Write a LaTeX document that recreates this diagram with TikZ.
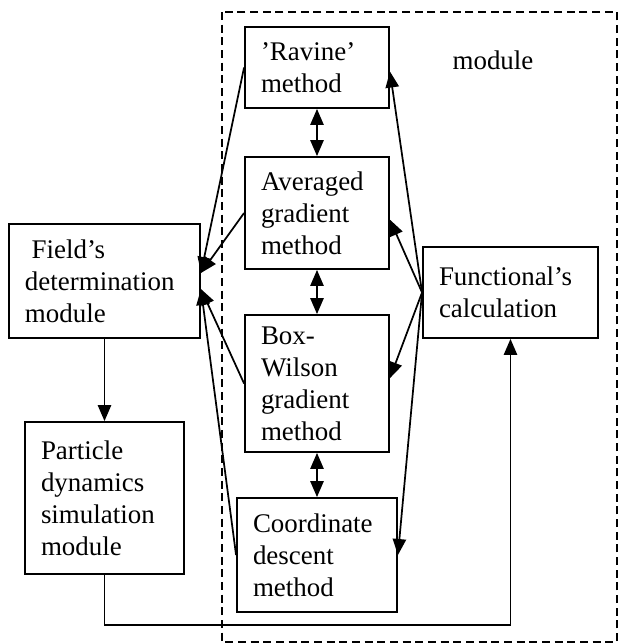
\documentclass[tikz,border=0pt]{standalone}
\usepackage{fontspec}
\setmainfont{Liberation Serif}
\usetikzlibrary{arrows.meta,positioning}

\begin{document}
\begin{tikzpicture}[x=0.75pt,y=-0.75pt,
  box/.style 2 args={draw, line width=1.4pt, align=left, inner xsep=12pt, inner ysep=0pt,
    text width=#1, minimum height=#2, font=\fontsize{20.2}{24}\selectfont},
  link/.style={line width=1.3pt, -{Triangle[length=12pt,width=10pt]}},
  dlink/.style={line width=1.3pt, {Triangle[length=12pt,width=10pt]}-{Triangle[length=12pt,width=10pt]}},
  frame/.style={line width=1.2pt, dash pattern=on 6pt off 3.5pt}]

\useasboundingbox (0,0) rectangle (618,644);

\draw[frame] (222,12) rectangle (617,642);

\node[box={84pt}{60.75pt}] (ravine) at (317,67.5) {'Ravine'\\method};
\node[box={84pt}{84pt}] (avg) at (317,213) {Averaged\\gradient\\method};
\node[box={84pt}{102.75pt}] (boxw) at (317,383.5) {Box-\\Wilson\\gradient\\method};
\node[box={96pt}{85.5pt}] (coord) at (317,555) {Coordinate\\descent\\method};
\node[box={119.25pt}{85.5pt}] (field) at (104.5,281) {\hspace*{0.25em}Field's\\determination\\module};
\node[box={95.25pt}{114pt}] (particle) at (104.5,498) {Particle\\dynamics\\simulation\\module\\[6pt]};
\node[box={107.25pt}{68.25pt}] (func) at (510.5,292.5) {Functional's\\calculation\\[4pt]};
\node[font=\fontsize{20.2}{24}\selectfont] (modlabel) at (493,60) {module};

\coordinate (bus) at (0,625);

% methods <-> each other
\draw[dlink] (ravine) -- (avg);
\draw[dlink] (avg) -- (boxw);
\draw[dlink] (boxw) -- (coord);

% methods -> field's determination
\draw[link] (ravine.west) -- ([yshift=6pt]field.east);
\draw[link] (avg.west) -- ([yshift=6pt]field.east);
\draw[link] (boxw.west) -- ([yshift=-6pt]field.east);
\draw[link] (coord.west) -- ([yshift=-6pt]field.east);

% functional -> methods
\draw[link] (func.west) -- ([yshift=-3pt]ravine.east);
\draw[link] (func.west) -- ([yshift=-5pt]avg.east);
\draw[link] (func.west) -- ([yshift=4pt]boxw.east);
\draw[link] (func.west) -- (coord.east);

\draw[link] (field) -- (particle);
\draw[link] (particle.south) -- (particle.south |- bus) -| (func.south);

\end{tikzpicture}
\end{document}
